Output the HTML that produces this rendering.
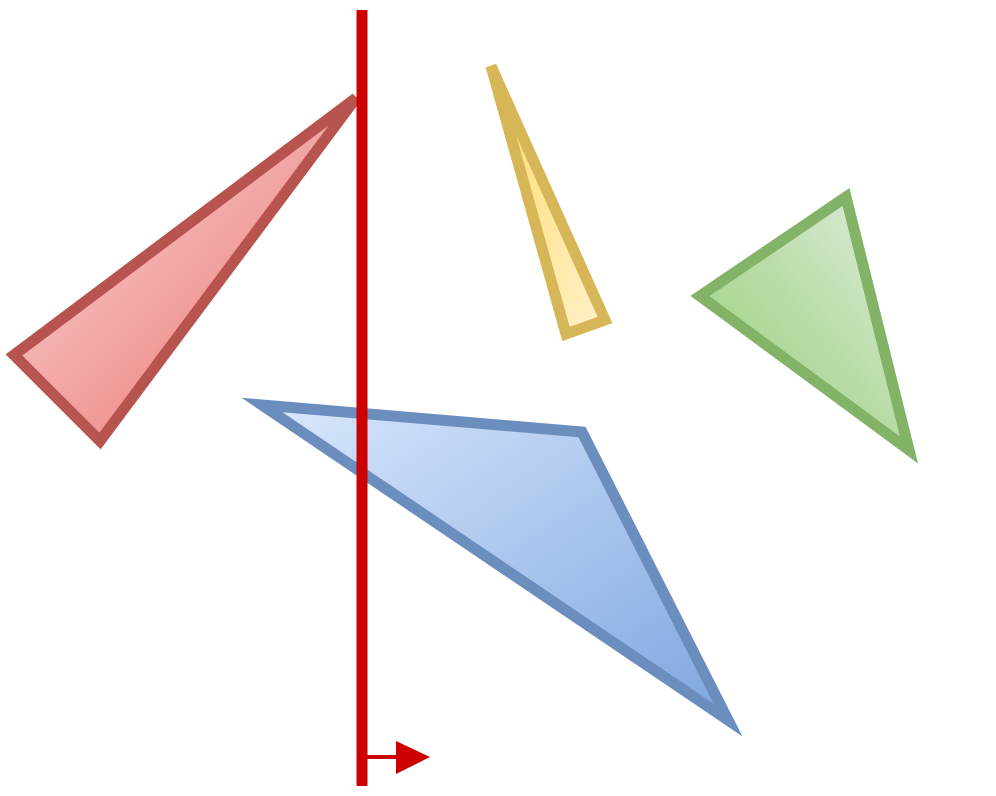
<!DOCTYPE html>
<html>
<head>
<meta charset="utf-8">
<style>
  html,body{margin:0;padding:0;background:#fff;}
  svg{display:block;}
</style>
</head>
<body>
<svg width="996" height="796" viewBox="0 0 996 796" xmlns="http://www.w3.org/2000/svg">
  <defs>
    <linearGradient id="gRed" x1="0" y1="0" x2="1" y2="1">
      <stop offset="0" stop-color="#fbe0df"/>
      <stop offset="1" stop-color="#ea6b66"/>
    </linearGradient>
    <linearGradient id="gYel" x1="0" y1="0" x2="1" y2="1">
      <stop offset="0" stop-color="#ffd966"/>
      <stop offset="1" stop-color="#fff2cc"/>
    </linearGradient>
    <linearGradient id="gGrn" x1="1" y1="0" x2="0" y2="1">
      <stop offset="0" stop-color="#e3eee2"/>
      <stop offset="0.5" stop-color="#b7dca5"/>
      <stop offset="1" stop-color="#97d077"/>
    </linearGradient>
    <linearGradient id="gBlu" x1="0" y1="0" x2="1" y2="1">
      <stop offset="0" stop-color="#dae8fc"/>
      <stop offset="1" stop-color="#7ea6e0"/>
    </linearGradient>
  </defs>
  <polygon points="14,355 100,441 356,98" fill="url(#gRed)" stroke="#b85450" stroke-width="11" stroke-linejoin="miter"/>
  <polygon points="491,66 566,334 605,320" fill="url(#gYel)" stroke="#d6b656" stroke-width="11"/>
  <polygon points="700,296 846,197 909,450" fill="url(#gGrn)" stroke="#82b366" stroke-width="11"/>
  <polygon points="262,405 582,432 728,720" fill="url(#gBlu)" stroke="#6c8ebf" stroke-width="11"/>
  <line x1="362" y1="10" x2="362" y2="786" stroke="#cc0000" stroke-width="11"/>
  <line x1="362" y1="757" x2="400" y2="757" stroke="#cc0000" stroke-width="4"/>
  <polygon points="396,741 430,757 396,774" fill="#cc0000"/>
</svg>
</body>
</html>
